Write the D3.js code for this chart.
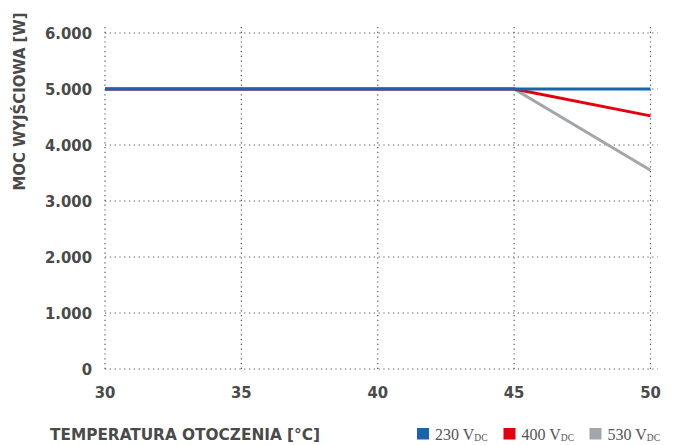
<!DOCTYPE html>
<html><head><meta charset="utf-8">
<script src="https://cdn.jsdelivr.net/npm/d3@7"></script>
<style>
html,body{margin:0;padding:0;background:#fff;}
svg{display:block;}
.lab{font-family:"DejaVu Sans Condensed","DejaVu Sans",sans-serif;font-weight:bold;fill:#4a4a4a;}
.leg{font-family:"Liberation Serif","Times New Roman",serif;fill:#555;}
</style>
</head><body>
<svg id="c" width="677" height="445"></svg>
<script>
const temps = [30, 35, 40, 45, 50];
const xTicks = [30, 35, 40, 45, 50];
const yTicks = [0, 1000, 2000, 3000, 4000, 5000, 6000];
const yTickLabels = ["0", "1.000", "2.000", "3.000", "4.000", "5.000", "6.000"];
const seriesNames = ["230", "400", "530"];
const seriesColors = ["#1a63ad", "#e3000f", "#a2a6ab"];
const s230 = [5000, 5000, 5000, 5000, 5000];
const s400 = [5000, 5000, 5000, 5000, 4520];
const s530 = [5000, 5000, 5000, 5000, 3550];
const xTitle = "TEMPERATURA OTOCZENIA [°C]";
const yTitle = "MOC WYJŚCIOWA [W]";

const svg = d3.select("#c");
const x = d3.scaleLinear().domain([30, 50]).range([105, 650.5]);
const y = d3.scaleLinear().domain([0, 6000]).range([369, 33]);

const g = svg.append("g");
g.selectAll("line.h").data(yTicks).enter().append("line")
  .attr("x1", x(30)).attr("x2", x(50) + 7)
  .attr("y1", d => y(d)).attr("y2", d => y(d))
  .attr("stroke", "#555").attr("stroke-width", 1.2).attr("stroke-dasharray", "1.2,3.6");
g.selectAll("line.v").data(xTicks).enter().append("line")
  .attr("x1", d => x(d)).attr("x2", d => x(d))
  .attr("y1", y(0)).attr("y2", y(6000) - 7)
  .attr("stroke", "#555").attr("stroke-width", 1.2).attr("stroke-dasharray", "1.2,3.6");

g.selectAll("text.yt").data(yTicks).enter().append("text")
  .attr("class", "lab").attr("x", 92).attr("y", d => y(d) + 6)
  .attr("text-anchor", "end").attr("font-size", 16.5)
  .text((d, i) => yTickLabels[i]);
g.selectAll("text.xt").data(xTicks).enter().append("text")
  .attr("class", "lab").attr("x", d => x(d)).attr("y", 398)
  .attr("text-anchor", "middle").attr("font-size", 16.5)
  .text(d => d);

svg.append("text").attr("class", "lab").attr("x", 50).attr("y", 440)
  .attr("font-size", 16.5).attr("textLength", 270).attr("lengthAdjust", "spacingAndGlyphs")
  .text(xTitle);
svg.append("text").attr("class", "lab")
  .attr("transform", "translate(24.5,101.5) rotate(-90)")
  .attr("text-anchor", "middle").attr("font-size", 15.5)
  .attr("textLength", 178).attr("lengthAdjust", "spacingAndGlyphs")
  .text(yTitle);

const line = d3.line().x((d, i) => x(temps[i])).y(d => y(d));
const series = [s530, s400, s230];
const cols = [seriesColors[2], seriesColors[1], seriesColors[0]];
series.forEach((s, i) => {
  svg.append("path").datum(s).attr("d", line)
    .attr("fill", "none").attr("stroke", cols[i]).attr("stroke-width", 3);
});

const legX = [417, 503.5, 589.5];
seriesNames.forEach((n, i) => {
  const lg = svg.append("g").attr("transform", `translate(${legX[i]},0)`);
  lg.append("rect").attr("x", 0).attr("y", 428).attr("width", 12).attr("height", 11.5)
    .attr("fill", seriesColors[i]);
  const t = lg.append("text").attr("class", "leg").attr("x", 18).attr("y", 440).attr("font-size", 16);
  t.append("tspan").text(n + " V");
  t.append("tspan").attr("font-size", 9.5).attr("dy", 1).text("DC");
});
</script>
</body></html>
